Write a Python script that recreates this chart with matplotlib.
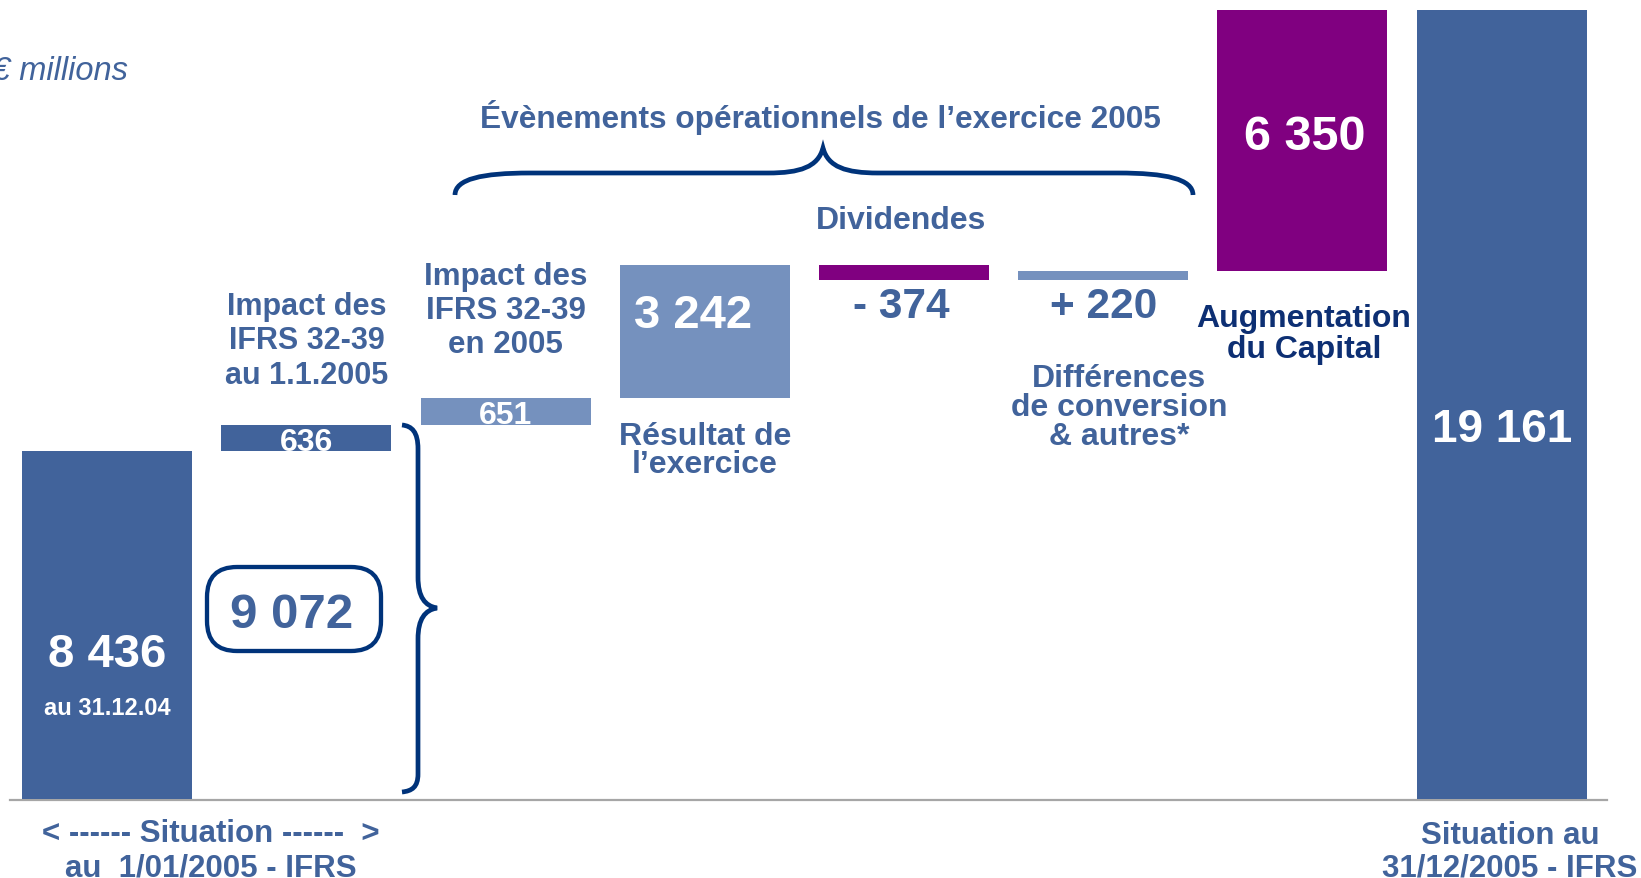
import numpy as np
import matplotlib
matplotlib.use("Agg")
import matplotlib.pyplot as plt
import matplotlib.transforms as mtransforms
from matplotlib.path import Path
from matplotlib.patches import PathPatch, FancyBboxPatch

plt.rcParams['font.family'] = ['Liberation Sans', 'DejaVu Sans']

# ---- data (€ millions) ----
start_value = 8436                                   # au 31.12.04
step_values = [636, 651, 3242, -374, 220, 6350]     # movements
bar_colors = ['#41639b', '#41639b', '#7591be', '#7591be',
              '#800080', '#7591be', '#800080', '#41639b']

levels = np.cumsum([start_value] + step_values)      # running total
end_value = levels[-1]                               # 19 161
opening_ifrs = levels[1]                             # 9 072

heights = [start_value] + [abs(v) for v in step_values] + [end_value]
bottoms = [0] + [min(levels[i], levels[i + 1]) for i in range(len(step_values))] + [0]

def fmt(v, sign=False):
    s = f"{abs(v):,}".replace(",", " ")
    if sign:
        s = ("- " if v < 0 else "+ ") + s
    return s

# ---- layout (pixels) ----
PX_W, PX_H, DPI = 1641, 879, 100
SLOT0_PX, SLOT_PX = 107.3, 199.2
BASE_PX = 800
Y_SCALE = 0.0412          # px per € million
BAR_W = 170 / SLOT_PX

TXT = '#41639b'
NAVY = '#00337a'

fig = plt.figure(figsize=(PX_W / DPI, PX_H / DPI), dpi=DPI)
ax = fig.add_axes([0, 0, 1, 1])
ax.set_xlim(-SLOT0_PX / SLOT_PX, (PX_W - SLOT0_PX) / SLOT_PX)
ax.set_ylim(-(PX_H - BASE_PX) / Y_SCALE, BASE_PX / Y_SCALE)
ax.axis('off')

# annotations are placed in pixel space (origin top-left)
px = mtransforms.Affine2D().scale(1 / PX_W, -1 / PX_H).translate(0, 1) + fig.transFigure

x = np.arange(len(heights))
ax.bar(x, heights, bottom=bottoms, width=BAR_W, color=bar_colors, linewidth=0, zorder=2)
ax.plot([10, 1607], [801, 801], transform=px, color='#a6a6a6', lw=1.6, zorder=1)

def cx(i):
    return SLOT0_PX + i * SLOT_PX

def txt(s, xx, yy, size, color=TXT, **kw):
    kw.setdefault('fontweight', 'bold')
    ax.text(xx, yy, s, transform=px, ha=kw.pop('ha', 'center'), va='baseline',
            fontsize=size, color=color, zorder=5, **kw)

def lines(items, xx, y0, step, size, color=TXT):
    for k, s in enumerate(items):
        txt(s, xx, y0 + k * step, size, color)

# value labels
txt(fmt(start_value), cx(0), 667, 34, 'white')
txt("au 31.12.04", cx(0), 715, 17, 'white')
for i in (1, 2):   # thin floating bars: label centred on the bar itself
    ax.text(x[i], bottoms[i] + heights[i] / 2, fmt(step_values[i - 1]), ha='center',
            va='center_baseline', fontsize=23, color='white', fontweight='bold', zorder=5)
txt(fmt(step_values[2]), cx(3) - 12, 328, 34, 'white')
txt(fmt(step_values[3], True), cx(4) - 3, 318, 30.5)
txt(fmt(step_values[4], True), cx(5), 318, 30.5)
txt(fmt(step_values[5]), cx(6) + 2, 150, 35, 'white')
txt(fmt(end_value), cx(7), 442, 33, 'white')
txt(fmt(opening_ifrs), 292, 628, 35.5)

# category texts
txt("€ millions", 128, 80, 23.5, ha='right', fontweight='normal', style='italic')
txt("Évènements opérationnels de l’exercice 2005", 820, 128, 22.8)
lines(["Impact des", "IFRS 32-39", "au 1.1.2005"], cx(1), 315, 34.5, 22)
lines(["Impact des", "IFRS 32-39", "en 2005"], cx(2), 285, 34, 22.5)
txt("Dividendes", cx(4) - 3, 229, 23)
lines(["Résultat de", "l’exercice"], 705, 445, 28, 23)
lines(["Différences", "de conversion", "& autres*"], 1119, 387, 29, 23)
lines(["Augmentation", "du Capital"], 1304, 327, 31, 23, '#0d2f73')
lines(["< ------ Situation ------  >", "au  1/01/2005 - IFRS"], 211, 842, 35, 22.5)
lines(["Situation au", "31/12/2005 - IFRS"], 1510, 844, 33, 22.5)

# rounded box around opening IFRS total
ax.add_patch(FancyBboxPatch((207, 568), 174, 84, boxstyle="round,pad=0,rounding_size=30",
                            transform=px, fill=False, ec=NAVY, lw=3.1, zorder=4))

# horizontal brace over the operational events
C, L, M = Path.CURVE4, Path.LINETO, Path.MOVETO
hb = [(455, 196), (455, 180), (482, 174), (530, 174), (768, 174),
      (800, 174), (818, 168), (823, 149),
      (828, 168), (846, 174), (878, 174), (1118, 174),
      (1166, 174), (1193, 180), (1193, 196)]
hb_codes = [M, C, C, C, L, C, C, C, C, C, C, L, C, C, C]
ax.add_patch(PathPatch(Path(hb, hb_codes), transform=px, fill=False, ec=NAVY, lw=3.4, zorder=4))

# vertical brace next to the opening bars
vb = [(402, 426), (412, 427), (418, 433), (418, 450), (418, 578),
      (418, 598), (425, 607), (437, 609),
      (425, 611), (418, 620), (418, 640), (418, 775),
      (418, 788), (412, 792), (402, 793)]
ax.add_patch(PathPatch(Path(vb, hb_codes), transform=px, fill=False, ec=NAVY, lw=3.4, zorder=4))

fig.savefig("out.png", dpi=DPI)
